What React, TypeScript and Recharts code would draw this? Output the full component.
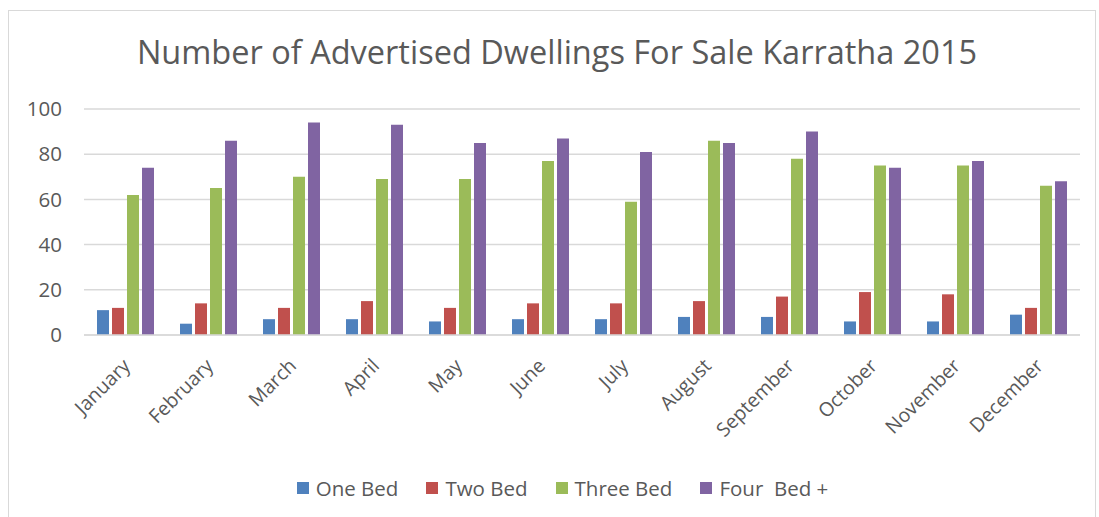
import { Bar, BarChart, CartesianGrid, XAxis, YAxis } from "recharts"

const months = ["January", "February", "March", "April", "May", "June", "July", "August", "September", "October", "November", "December"]
const oneBed = [11, 5, 7, 7, 6, 7, 7, 8, 8, 6, 6, 9]
const twoBed = [12, 14, 12, 15, 12, 14, 14, 15, 17, 19, 18, 12]
const threeBed = [62, 65, 70, 69, 69, 77, 59, 86, 78, 75, 75, 66]
const fourBed = [74, 86, 94, 93, 85, 87, 81, 85, 90, 74, 77, 68]
const yTicks = [0, 20, 40, 60, 80, 100]

const series = [
    { key: "one", label: "One Bed", color: "#4F81BD", values: oneBed },
    { key: "two", label: "Two Bed", color: "#C0504D", values: twoBed },
    { key: "three", label: "Three Bed", color: "#9BBB59", values: threeBed },
    { key: "four", label: "Four  Bed +", color: "#8064A2", values: fourBed },
]

const chartData = months.map((m, i) => {
    const row: Record<string, string | number> = { month: m }
    series.forEach((s) => (row[s.key] = s.values[i]))
    return row
})

const FONT = "'Open Sans', sans-serif"
const TEXT = "#595959"

function MonthTick({ x, y, payload }: any) {
    const tx = x + 6
    const ty = y + 24
    return (
        <text x={tx} y={ty} transform={`rotate(-45 ${tx} ${ty})`} textAnchor="end" fill={TEXT} fontSize={19.5} fontFamily={FONT}>
            {payload.value}
        </text>
    )
}

export default function App() {
    return (
        <div style={{ position: "absolute", left: 0, top: 0, width: 1099, height: 517, background: "#fff", overflow: "hidden" }}>
            <div style={{ position: "absolute", left: 8, top: 10, width: 1088, height: 520, border: "1px solid #D9D9D9", boxSizing: "border-box" }} />
            <div
                style={{
                    position: "absolute", left: 8, width: 1098, top: 30, textAlign: "center",
                    fontFamily: FONT, fontSize: 32.5, color: TEXT, lineHeight: "44px",
                }}
            >
                Number of Advertised Dwellings For Sale Karratha 2015
            </div>
            <div style={{ position: "absolute", left: 0, top: 0 }}>
                <BarChart width={1099} height={517} data={chartData} margin={{ top: 109, right: 19, bottom: 0, left: 0 }} barCategoryGap={13} barGap={3}>
                    <CartesianGrid vertical={false} stroke="#D9D9D9" strokeWidth={1.5} />
                    <XAxis dataKey="month" height={182} tickLine={false} axisLine={{ stroke: "#D9D9D9", strokeWidth: 1.5 }} tick={<MonthTick />} interval={0} />
                    <YAxis
                        width={84}
                        domain={[0, 100]}
                        ticks={yTicks}
                        tickLine={false}
                        axisLine={false}
                        tickSize={0}
                        tickMargin={22}
                        tick={{ fill: TEXT, fontSize: 20.5, fontFamily: FONT }}
                    />
                    {series.map((s) => (
                        <Bar key={s.key} dataKey={s.key} name={s.label} fill={s.color} isAnimationActive={false} />
                    ))}
                </BarChart>
            </div>
            <div style={{ position: "absolute", top: 474, left: 13, width: 1099, display: "flex", justifyContent: "center", gap: 28, fontFamily: FONT, fontSize: 20.5, color: TEXT }}>
                {series.map((s) => (
                    <div key={s.key} style={{ display: "flex", alignItems: "center", gap: 7 }}>
                        <span style={{ width: 12, height: 12, background: s.color, display: "inline-block" }} />
                        <span style={{ whiteSpace: "pre" }}>{s.label}</span>
                    </div>
                ))}
            </div>
        </div>
    )
}
